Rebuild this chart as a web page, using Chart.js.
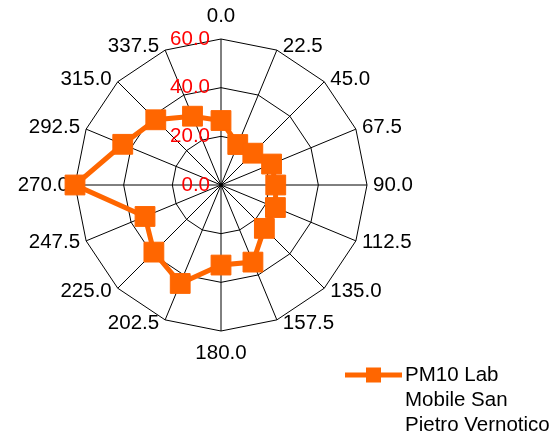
<!DOCTYPE html>
<html>
<head>
<meta charset="utf-8">
<script src="https://cdn.jsdelivr.net/npm/chart.js@4/dist/chart.umd.min.js"></script>
<style>
    html, body { margin: 0; padding: 0; background: #fff; }
    #wrap { width: 558px; height: 440px; }
</style>
</head>
<body>
<div id="wrap"><canvas id="roseChart" width="558" height="440"></canvas></div>
<script>
// wind directions (degrees) and PM10 values
const directions = ['0.0', '22.5', '45.0', '67.5', '90.0', '112.5', '135.0', '157.5',
    '180.0', '202.5', '225.0', '247.5', '270.0', '292.5', '315.0', '337.5'];
const pm10Values = [26.5, 18, 18.5, 22.5, 22.5, 24.2, 25.2, 34.3,
    32.9, 43.8, 39, 33.8, 60, 43.7, 37.9, 30.6];
const tickValues = [0, 20, 40, 60];
const seriesName = 'PM10 Lab Mobile San Pietro Vernotico';

const orange = '#FF6600';
const labelFont = '20.5px "Liberation Sans", Arial, sans-serif';

// Excel-like labels: directions beside the outer ring, red values up the north axis
const excelLabels = {
    id: 'excelLabels',
    beforeDatasetsDraw(chart) {
        const scale = chart.scales.r;
        const ctx = chart.ctx;
        ctx.save();
        ctx.font = labelFont;
        ctx.textBaseline = 'middle';
        ctx.fillStyle = '#000';
        chart.data.labels.forEach((label, i) => {
            const angle = scale.getIndexAngle(i);
            const pos = scale.getPointPosition(i, scale.drawingArea);
            const sin = Math.sin(angle);
            const cos = Math.cos(angle);
            if (Math.abs(sin) < 0.01) {
                ctx.textAlign = 'center';
                ctx.fillText(label, pos.x, pos.y - cos * 22.5);
            } else {
                ctx.textAlign = sin > 0 ? 'left' : 'right';
                ctx.fillText(label, pos.x + Math.sign(sin) * 6, pos.y - cos * 4);
            }
        });
        ctx.fillStyle = '#FF0000';
        ctx.textAlign = 'right';
        tickValues.forEach(v => {
            const y = scale.yCenter - scale.getDistanceFromCenterForValue(v);
            ctx.fillText(v.toFixed(1), scale.xCenter - 11, y);
        });
        ctx.restore();
    },
    afterDraw(chart) {
        // legend at the bottom right, wrapped like the original
        const ctx = chart.ctx;
        const ds = chart.data.datasets[0];
        ctx.save();
        ctx.font = labelFont;
        const words = ds.label.split(' ');
        const lines = [];
        let line = '';
        words.forEach(w => {
            const test = line ? line + ' ' + w : w;
            if (line && ctx.measureText(test).width > 150) {
                lines.push(line);
                line = w;
            } else {
                line = test;
            }
        });
        lines.push(line);

        const y0 = 375;
        ctx.strokeStyle = ds.borderColor;
        ctx.lineWidth = ds.borderWidth;
        ctx.beginPath();
        ctx.moveTo(345, y0);
        ctx.lineTo(402, y0);
        ctx.stroke();
        ctx.fillStyle = ds.pointBackgroundColor;
        ctx.fillRect(366, y0 - 7.5, 15, 15);

        ctx.fillStyle = '#000';
        ctx.textAlign = 'left';
        ctx.textBaseline = 'middle';
        lines.forEach((t, k) => ctx.fillText(t, 405, y0 + k * 25));
        ctx.restore();
    }
};

const roseCtx = document.getElementById('roseChart').getContext('2d');
const roseChart = new Chart(roseCtx, {
    type: 'radar',
    data: {
        labels: directions,
        datasets: [{
            label: seriesName,
            data: pm10Values,
            borderColor: orange,
            backgroundColor: orange,
            borderWidth: 5,
            fill: false,
            tension: 0,
            pointStyle: 'rect',
            pointRadius: 14,
            pointHoverRadius: 14,
            pointBackgroundColor: orange,
            pointBorderColor: orange,
            pointBorderWidth: 1,
        }]
    },
    options: {
        responsive: false,
        animation: false,
        devicePixelRatio: 1,
        layout: {
            padding: { left: 75, top: 39, right: 191, bottom: 109 }
        },
        plugins: {
            legend: { display: false },
            tooltip: { enabled: false },
        },
        scales: {
            r: {
                min: 0,
                max: 60,
                startAngle: 0,
                ticks: { stepSize: 20, display: false },
                grid: { color: '#000', lineWidth: 1 },
                angleLines: { color: '#000', lineWidth: 1 },
                pointLabels: { display: false },
            }
        }
    },
    plugins: [excelLabels]
});
</script>
</body>
</html>
